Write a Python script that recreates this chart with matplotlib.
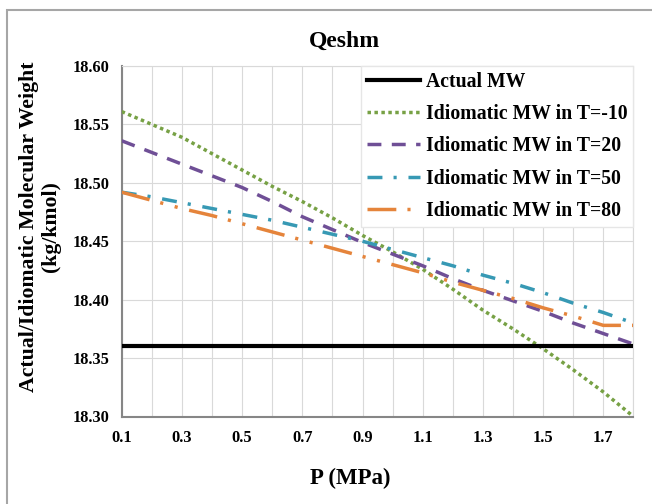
import numpy as np
import matplotlib
matplotlib.use("Agg")
import matplotlib.pyplot as plt
from matplotlib.patches import Rectangle

plt.rcParams['font.family'] = ['Liberation Serif', 'DejaVu Serif']
plt.rcParams['font.weight'] = 'bold'

# pressure (MPa)
pressure = [0.1, 0.2, 0.3, 0.4, 0.5, 0.6, 0.7, 0.8, 0.9,
            1.0, 1.1, 1.2, 1.3, 1.4, 1.5, 1.6, 1.7, 1.8]

actual_mw = [18.36] * len(pressure)
mw_t_m10 = [18.561, 18.550, 18.539, 18.525, 18.511, 18.497, 18.484, 18.470, 18.455,
            18.441, 18.426, 18.409, 18.391, 18.375, 18.358, 18.340, 18.321, 18.300]
mw_t_20 = [18.536, 18.526, 18.516, 18.506, 18.496, 18.484, 18.471, 18.460, 18.449,
           18.439, 18.429, 18.418, 18.408, 18.399, 18.390, 18.380, 18.371, 18.362]
mw_t_50 = [18.492, 18.488, 18.483, 18.478, 18.473, 18.468, 18.462, 18.456, 18.450,
           18.443, 18.436, 18.429, 18.421, 18.414, 18.406, 18.397, 18.389, 18.380]
mw_t_80 = [18.492, 18.485, 18.478, 18.472, 18.465, 18.458, 18.451, 18.444, 18.437,
           18.430, 18.423, 18.415, 18.408, 18.401, 18.393, 18.386, 18.378, 18.378]

labels = ['Actual MW', 'Idiomatic MW in T=-10', 'Idiomatic MW in T=20',
          'Idiomatic MW in T=50', 'Idiomatic MW in T=80']

fig = plt.figure(figsize=(6.52, 5.04), dpi=100)
ax = fig.add_axes([121.7 / 652, 1 - 416.5 / 504, 511.7 / 652, 350.5 / 504])

lw = 2.5
ax.plot(pressure, actual_mw, color='black', lw=3, label=labels[0], zorder=5)
ax.plot(pressure, mw_t_m10, color='#77a145', lw=lw, linestyle=(0, (1, 1)),
        label=labels[1], zorder=4)
ax.plot(pressure, mw_t_20, color='#6f4f96', lw=lw, linestyle=(0, (4, 3)),
        label=labels[2], zorder=4, dash_capstyle='butt')
ax.plot(pressure, mw_t_50, color='#3799b4', lw=lw, linestyle=(0, (4.3, 3.2, 0.9, 3.4)),
        label=labels[3], zorder=4, dash_capstyle='butt')
ax.plot(pressure, mw_t_80, color='#e5843b', lw=lw,
        linestyle=(0, (8.3, 3.2, 0.9, 3.4, 0.9, 3.4)),
        label=labels[4], zorder=4, dash_capstyle='butt')

ax.set_xlim(0.1, 1.8)
ax.set_ylim(18.30, 18.60)
ax.set_xticks(np.arange(0.1, 1.71, 0.2))
ax.set_xticklabels(['0.1', '0.3', '0.5', '0.7', '0.9', '1.1', '1.3', '1.5', '1.7'])
ax.set_xticks(np.arange(0.2, 1.81, 0.2), minor=True)
ax.set_yticks(np.arange(18.30, 18.601, 0.05))
ax.set_yticklabels(['%.2f' % v for v in np.arange(18.30, 18.601, 0.05)])
ax.grid(True, which='both', color='#d9d9d9', lw=0.8)
ax.set_axisbelow(True)
ax.tick_params(axis='both', which='both', length=0, labelsize=11.8)
ax.tick_params(axis='x', pad=10)
ax.tick_params(axis='y', pad=9)

for s in ['left', 'bottom']:
    ax.spines[s].set_color('#868686')
    ax.spines[s].set_linewidth(1.5)
for s in ['top', 'right']:
    ax.spines[s].set_color('#d9d9d9')
    ax.spines[s].set_linewidth(0.8)

leg = ax.legend(loc='upper right', bbox_to_anchor=(1, 1), borderaxespad=0,
                fontsize=14.2, frameon=True, fancybox=False, framealpha=1,
                edgecolor='#e6e6e6', handlelength=2.7, handletextpad=0.3,
                labelspacing=0.62, borderpad=0.3)
leg.set_zorder(10)

fig.text(344 / 652, 1 - 41 / 504, 'Qeshm', ha='center', va='center',
         fontsize=17, fontweight='bold')
fig.text(350 / 652, 1 - 478 / 504, 'P (MPa)', ha='center', va='center',
         fontsize=16.5, fontweight='bold')
fig.text(40 / 652, 1 - 227 / 504, 'Actual/Idiomatic Molecular Weight\n(kg/kmol)',
         ha='center', va='center', rotation=90, fontsize=15.7, fontweight='bold',
         linespacing=1.15)

fig.patches.append(Rectangle((7 / 652, -0.1), 1.2, 1.1 - 10 / 504, fill=False,
                             edgecolor='#a6a6a6', lw=1.5, transform=fig.transFigure))

fig.savefig('out.png', dpi=100)
